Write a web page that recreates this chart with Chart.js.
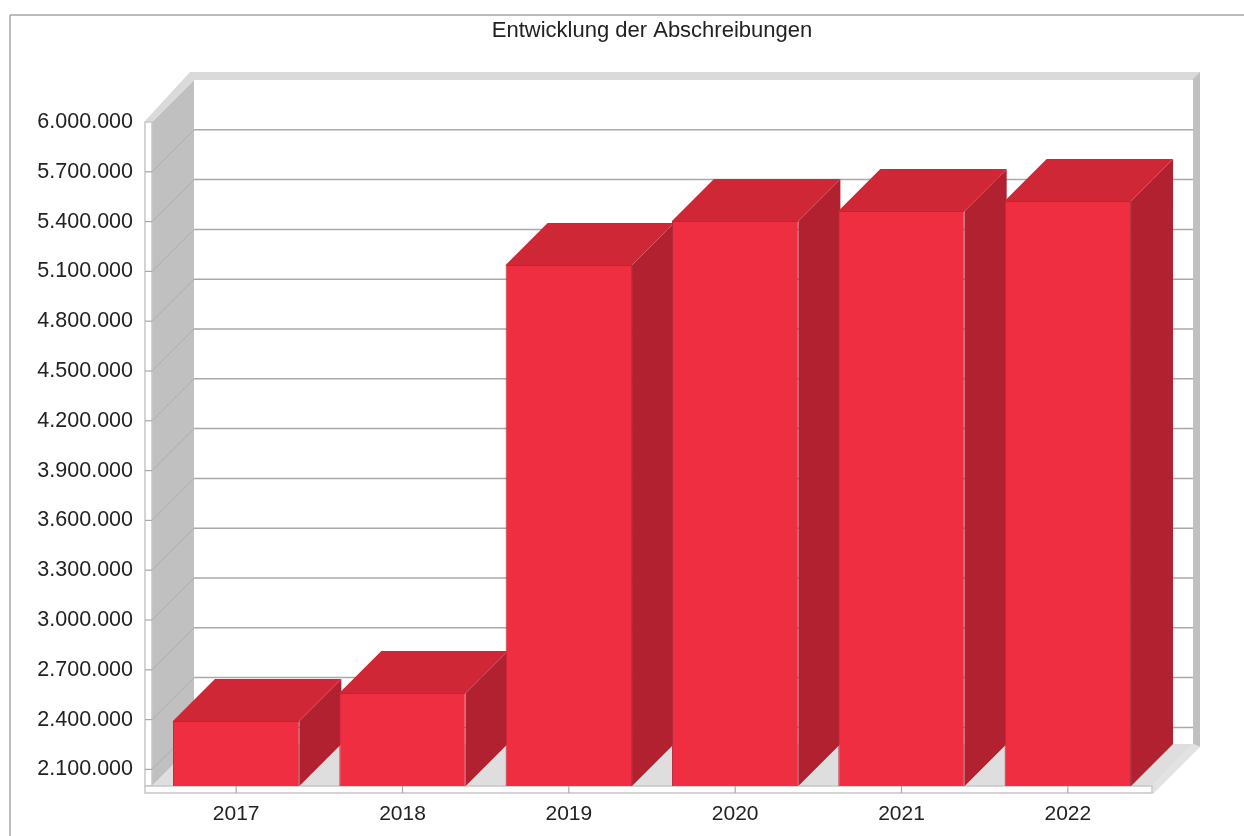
<!DOCTYPE html>
<html>
<head>
<meta charset="utf-8">
<style>html,body{margin:0;padding:0;background:#fff}canvas{display:block}</style>
<script src="https://cdn.jsdelivr.net/npm/chart.js@4/dist/chart.umd.min.js"></script>
</head>
<body>
<canvas id="c" width="1244" height="836"></canvas>
<script>
const titleText = 'Entwicklung der Abschreibungen';
const categories = ['2017','2018','2019','2020','2021','2022'];
const depreciation = [2391000,2560000,5139000,5404000,5464000,5524000];
const yMin = 2000000;
const yMax = 6000000;
const yTickValues = [2100000,2400000,2700000,3000000,3300000,3600000,3900000,4200000,4500000,4800000,5100000,5400000,5700000,6000000];
const yTickLabels = ['2.100.000','2.400.000','2.700.000','3.000.000','3.300.000','3.600.000','3.900.000','4.200.000','4.500.000','4.800.000','5.100.000','5.400.000','5.700.000','6.000.000'];

const FONT = '"Liberation Sans", Arial, sans-serif';
const D = 42;

function poly(ctx, pts, fill, stroke, lw) {
  ctx.beginPath();
  pts.forEach((p, i) => i ? ctx.lineTo(p[0], p[1]) : ctx.moveTo(p[0], p[1]));
  ctx.closePath();
  if (fill) { ctx.fillStyle = fill; ctx.fill(); }
  if (stroke) { ctx.strokeStyle = stroke; ctx.lineWidth = lw || 1; ctx.stroke(); }
}
function line(ctx, x1, y1, x2, y2, color, lw) {
  ctx.beginPath(); ctx.moveTo(x1, y1); ctx.lineTo(x2, y2);
  ctx.strokeStyle = color; ctx.lineWidth = lw || 1; ctx.stroke();
}

const scene3d = {
  id: 'scene3d',
  beforeDatasetsDraw(chart) {
    const { ctx, scales: { x, y } } = chart;
    const L = x.left - 1, R = 1152;
    const T = y.getPixelForValue(y.max), B = y.getPixelForValue(y.min);
    const wallGrey = '#c0c0c0', light = '#dedede', edge = '#c6c6c6', grid = '#a9a9a9';
    ctx.save();
    // outer frame
    line(ctx, 10, 15, 10, 836, '#a6a6a6', 1.5);
    line(ctx, 10, 15, 1244, 15, '#a6a6a6', 1.5);
    // left wall
    poly(ctx, [[L, T], [L + D, T - D], [L + D, B - D], [L, B]], wallGrey);
    // back wall top band
    poly(ctx, [[L - 7, T - 1], [L + D - 4, T - D - 8], [R + 48, T - D - 8], [R + 48, T - D - 3], [R + 41, T - D], [L + D, T - D], [L, T]], '#dadada');
    // right strip
    poly(ctx, [[R + 41, T - D - 1], [R + 48, T - D - 8], [R + 48, B - D + 3], [R + 41, B - D]], wallGrey);
    // floor
    poly(ctx, [[L, B], [L + D, B - D], [R + 41, B - D], [R, B]], light);
    poly(ctx, [[R, B], [R + 41, B - D], [R + 48, B - D + 3], [R + 1, B + 8]], '#e2e2e2');
    // front strips
    poly(ctx, [[L - 7, T], [L, T], [L, B], [L - 7, B]], '#fff', edge, 1.5);
    poly(ctx, [[L - 7, B], [R, B], [R, B + 7], [L - 7, B + 7]], '#fff', edge, 1.5);
    // gridlines on back wall, wall diagonals and front ticks
    yTickValues.forEach(v => {
      const py = y.getPixelForValue(v);
      if (v < y.max) {
        line(ctx, L + D, py - D, R + 41, py - D, grid, 1.5);
        line(ctx, L, py, L + D, py - D, '#adadad', 1);
        line(ctx, L - 7, py, L, py, grid, 1.2);
      }
    });
    // category ticks
    x.ticks.forEach((t, i) => {
      const px = x.getPixelForTick(i);
      line(ctx, px, B, px, B + 7, grid, 1.2);
    });
    // bar sides and tops
    const meta = chart.getDatasetMeta(0);
    meta.data.forEach(bar => {
      const xl = bar.x - bar.width / 2, xr = bar.x + bar.width / 2, yt = bar.y, yb = bar.base;
      poly(ctx, [[xr, yt], [xr + D, yt - D], [xr + D, yb - D], [xr, yb]], '#b2212f');
      poly(ctx, [[xl, yt], [xl + D, yt - D], [xr + D, yt - D], [xr, yt]], '#d02737');
    });
    ctx.restore();
  }
};

new Chart(document.getElementById('c'), {
  type: 'bar',
  data: {
    labels: categories,
    datasets: [{
      data: depreciation,
      base: yMin,
      backgroundColor: '#ef2e42',
      borderColor: '#b5293a',
      borderWidth: 1,
      barPercentage: 0.76,
      categoryPercentage: 1
    }]
  },
  plugins: [scene3d],
  options: {
    responsive: false,
    animation: false,
    events: [],
    layout: { autoPadding: false, padding: { left: 0, right: 93, top: 0, bottom: 0 } },
    plugins: {
      legend: { display: false },
      tooltip: { enabled: false },
      title: {
        display: true,
        text: titleText,
        fullSize: false,
        color: '#222',
        font: { family: FONT, size: 22, weight: 'normal', lineHeight: 1.2 },
        padding: { top: 18, bottom: 77.6 }
      }
    },
    scales: {
      x: {
        grid: { display: false },
        border: { display: false },
        afterFit(s) { s.height = 50; },
        ticks: { color: '#222', padding: 8, maxRotation: 0, font: { family: FONT, size: 21 } }
      },
      y: {
        min: yMin,
        max: yMax,
        grid: { display: false },
        border: { display: false },
        afterFit(s) { s.width = 153; },
        afterBuildTicks(s) { s.ticks = yTickValues.map(v => ({ value: v })); },
        ticks: {
          color: '#222',
          padding: 12,
          font: { family: FONT, size: 21.5 },
          callback(v) { return yTickLabels[yTickValues.indexOf(v)]; }
        }
      }
    }
  }
});
</script>
</body>
</html>
